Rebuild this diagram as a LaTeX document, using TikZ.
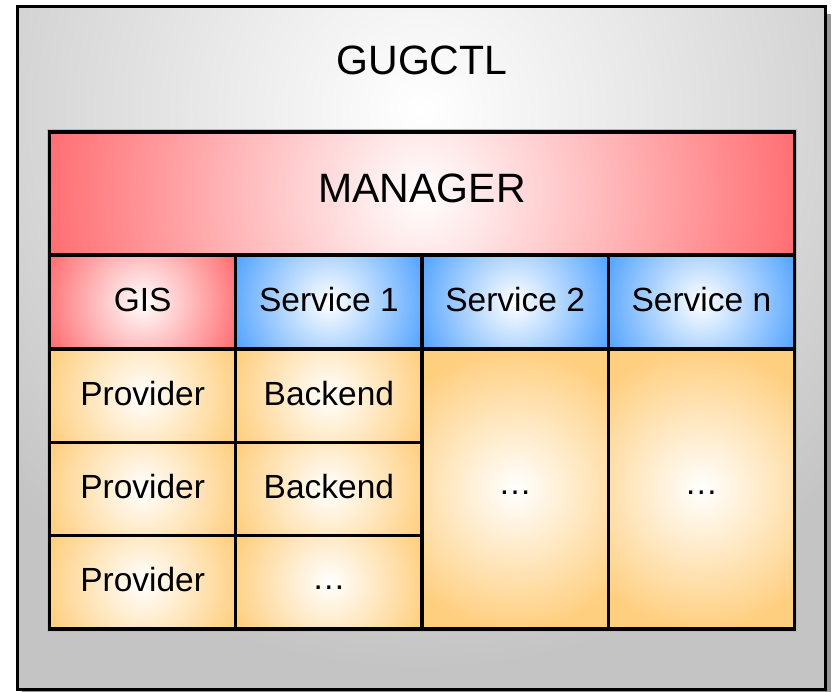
\documentclass[tikz,border=0pt]{standalone}
\usepackage{fontspec}
\setmainfont{Liberation Sans}

\definecolor{redc}{RGB}{255,112,116}
\definecolor{bluec}{RGB}{88,166,255}
\definecolor{orangec}{RGB}{255,207,128}
\definecolor{framegray}{RGB}{196,196,196}
\definecolor{shadowgray}{RGB}{150,150,150}

\tikzset{
  % a cell filled with a round white-centred glow fading to its colour
  cellbox/.style n args={4}{
    rectangle, inner sep=0pt, outer sep=0pt,
    minimum width=#2, minimum height=#3, fill=#1,
    path picture={\shade[inner color=white, outer color=#1]
      (path picture bounding box.center) circle (#4);}
  },
  gridline/.style={draw=black, line width=3.2pt, line join=miter},
  smalltxt/.style={font=\fontsize{33.5}{40}\selectfont, inner sep=0pt, anchor=base},
  bigtxt/.style={font=\fontsize{41}{48}\selectfont, inner sep=0pt, anchor=base}
}

\begin{document}
\begin{tikzpicture}[x=1pt, y=-1pt]
\useasboundingbox (0,0) rectangle (835,691);

% outer frame: shadow, glow and border
\fill[shadowgray] (22,14) rectangle (831,700);
\begin{scope}
  \clip (17.5,6.5) rectangle (825,689.5);
  \fill[framegray] (17.5,6.5) rectangle (825,689.5);
  \shade[inner color=white, outer color=framegray] (421,110) circle (560);
\end{scope}
\draw[line width=3pt] (17.5,6.5) rectangle (825,689.5);
\node[bigtxt] (title) at (422,74) {GUGCTL};

% soft halo round the grid
\draw[gray!55, line width=5.2pt] (49.5,132) rectangle (794.5,629);

% manager bar
\node[cellbox={redc}{745pt}{123pt}{372pt}] (mgr) at (422,193.5) {};

% second row
\node[cellbox={redc}{186.25pt}{94pt}{100pt}]  (gis) at (142.625,302) {};
\node[cellbox={bluec}{186.25pt}{94pt}{100pt}] (sa)  at (328.875,302) {};
\node[cellbox={bluec}{186.25pt}{94pt}{100pt}] (sb)  at (515.125,302) {};
\node[cellbox={bluec}{186.25pt}{94pt}{100pt}] (sn)  at (701.375,302) {};

% providers and backends
\node[cellbox={orangec}{186.25pt}{93.33pt}{100pt}] (pa) at (142.625,395.67) {};
\node[cellbox={orangec}{186.25pt}{93.33pt}{100pt}] (pb) at (142.625,489) {};
\node[cellbox={orangec}{186.25pt}{93.33pt}{100pt}] (pc) at (142.625,582.33) {};
\node[cellbox={orangec}{186.25pt}{93.33pt}{100pt}] (ba) at (328.875,395.67) {};
\node[cellbox={orangec}{186.25pt}{93.33pt}{100pt}] (bb) at (328.875,489) {};
\node[cellbox={orangec}{186.25pt}{93.33pt}{100pt}] (bc) at (328.875,582.33) {};

% tall columns under services 2 and n
\node[cellbox={orangec}{186.25pt}{280pt}{140pt}] (tb) at (515.125,489) {};
\node[cellbox={orangec}{186.25pt}{280pt}{140pt}] (tn) at (701.375,489) {};

% cell borders
\foreach \c in {mgr,gis,sa,sb,sn,pa,pb,pc,ba,bb,bc,tb,tn}
  \draw[gridline] (\c.north west) rectangle (\c.south east);

% labels
\node[bigtxt]   (lmgr) at (422,202)       {MANAGER};
\node[smalltxt] (lgis) at (142.625,311)   {GIS};
\node[smalltxt] (lsa)  at (328.875,311)   {Service 1};
\node[smalltxt] (lsb)  at (515.125,311)   {Service 2};
\node[smalltxt] (lsn)  at (701.375,311)   {Service n};
\node[smalltxt] (lpa)  at (142.625,405)   {Provider};
\node[smalltxt] (lpb)  at (142.625,498.3) {Provider};
\node[smalltxt] (lpc)  at (142.625,591.6) {Provider};
\node[smalltxt] (lba)  at (328.875,405)   {Backend};
\node[smalltxt] (lbb)  at (328.875,498.3) {Backend};
\node[smalltxt] (lbc)  at (328.875,589)   {…};
\node[smalltxt] (ltb)  at (515.125,494)   {…};
\node[smalltxt] (ltn)  at (701.375,494)   {…};
\end{tikzpicture}
\end{document}
